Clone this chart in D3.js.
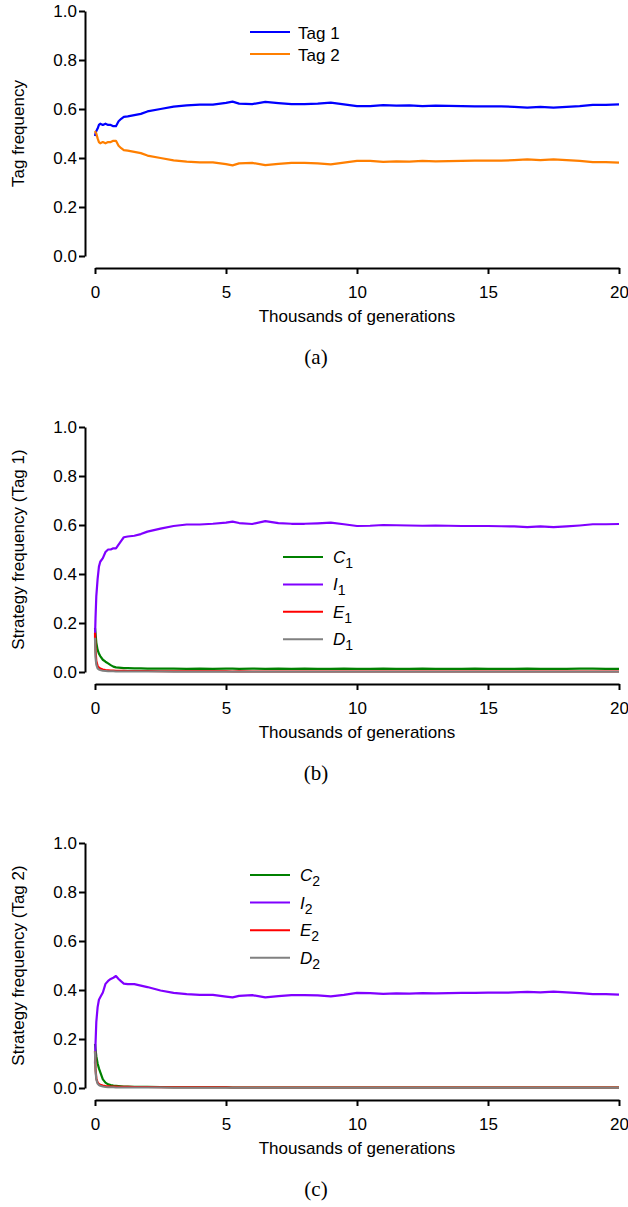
<!DOCTYPE html>
<html><head><meta charset="utf-8">
<script src="https://cdn.jsdelivr.net/npm/d3@7"></script>
<style>body{margin:0;background:#fff} svg{display:block}</style>
</head><body>
<svg id="chart" width="628" height="1207"></svg>
<script>
// x values: thousands of generations
const gens = [0, 0.02, 0.05, 0.1, 0.15, 0.2, 0.3, 0.4, 0.5, 0.6, 0.7, 0.8, 0.9,
  1.0, 1.1, 1.25, 1.5, 1.75, 2.0,
  2.5, 3.0, 3.5, 4.0, 4.5, 5.0, 5.25, 5.5,
  6.0, 6.5, 7.0, 7.5, 8.0, 8.5, 9.0, 9.5, 10.0,
  10.5, 11.0, 11.5, 12.0, 12.5, 13.0, 13.5, 14.0, 14.5, 15.0,
  15.5, 16.0, 16.5, 17.0, 17.5, 18.0, 18.5, 19.0, 19.5, 20.0];
const xTicks = [0, 5, 10, 15, 20];
const yTicks = [0, 0.2, 0.4, 0.6, 0.8, 1.0];

// panel (a)
const tag1 = [0.49, 0.50, 0.51, 0.52, 0.535, 0.54, 0.535, 0.54, 0.535, 0.535, 0.53, 0.53, 0.55,
  0.56, 0.568, 0.57, 0.575, 0.58, 0.59,
  0.60, 0.61, 0.615, 0.618, 0.618, 0.625, 0.630, 0.622,
  0.62, 0.629, 0.624, 0.62, 0.62, 0.622, 0.626, 0.619, 0.612,
  0.612, 0.616, 0.614, 0.615, 0.612, 0.614, 0.613, 0.612, 0.611, 0.611,
  0.611, 0.609, 0.606, 0.609, 0.606, 0.609, 0.612, 0.617, 0.617, 0.619];
const tag2 = [0.51, 0.505, 0.50, 0.48, 0.465, 0.46, 0.465, 0.46, 0.465, 0.465, 0.47, 0.47, 0.45,
  0.44, 0.432, 0.43, 0.425, 0.42, 0.41,
  0.40, 0.39, 0.385, 0.382, 0.382, 0.375, 0.370, 0.378,
  0.38, 0.371, 0.376, 0.38, 0.38, 0.378, 0.374, 0.381, 0.388,
  0.388, 0.384, 0.386, 0.385, 0.388, 0.386, 0.387, 0.388, 0.389, 0.389,
  0.389, 0.391, 0.394, 0.391, 0.394, 0.391, 0.388, 0.383, 0.383, 0.381];

// panel (b)
const c1 = [0.18, 0.16, 0.12, 0.09, 0.075, 0.065, 0.05, 0.042, 0.035, 0.028, 0.022, 0.019, 0.018,
  0.017, 0.016, 0.016, 0.015, 0.015, 0.014,
  0.014, 0.014, 0.013, 0.014, 0.013, 0.014, 0.014, 0.013,
  0.014, 0.013, 0.014, 0.013, 0.014, 0.013, 0.013, 0.014, 0.013,
  0.013, 0.014, 0.013, 0.013, 0.014, 0.013, 0.013, 0.013, 0.014, 0.013,
  0.013, 0.013, 0.014, 0.013, 0.013, 0.013, 0.014, 0.014, 0.013, 0.013];
const i1 = [0.14, 0.22, 0.31, 0.38, 0.43, 0.45, 0.465, 0.49, 0.50, 0.50, 0.505, 0.505, 0.52,
  0.535, 0.55, 0.553, 0.556, 0.563, 0.573,
  0.585, 0.596, 0.602, 0.602, 0.605, 0.61, 0.614, 0.608,
  0.604, 0.616, 0.608, 0.605, 0.605, 0.607, 0.61, 0.603, 0.596,
  0.597, 0.60, 0.599, 0.598, 0.597, 0.598, 0.597, 0.596, 0.596, 0.596,
  0.595, 0.594, 0.591, 0.594, 0.591, 0.594, 0.598, 0.603, 0.603, 0.604];
const e1 = [0.16, 0.09, 0.045, 0.025, 0.018, 0.014, 0.010, 0.008, 0.007, 0.006, 0.006, 0.005, 0.005,
  0.005, 0.005, 0.004, 0.004, 0.004, 0.004,
  0.003, 0.003, 0.003, 0.003, 0.003, 0.003, 0.002, 0.003,
  0.002, 0.002, 0.002, 0.002, 0.002, 0.002, 0.002, 0.002, 0.002,
  0.002, 0.002, 0.002, 0.002, 0.002, 0.002, 0.002, 0.002, 0.002, 0.002,
  0.002, 0.002, 0.002, 0.002, 0.002, 0.002, 0.002, 0.002, 0.002, 0.002];
const d1 = [0.14, 0.06, 0.03, 0.015, 0.010, 0.008, 0.005, 0.004, 0.003, 0.003, 0.003, 0.002, 0.002,
  0.002, 0.002, 0.002, 0.002, 0.002, 0.002,
  0.002, 0.001, 0.001, 0.001, 0.001, 0.001, 0.001, 0.001,
  0.001, 0.001, 0.001, 0.001, 0.001, 0.001, 0.001, 0.001, 0.001,
  0.001, 0.001, 0.001, 0.001, 0.001, 0.001, 0.001, 0.001, 0.001, 0.001,
  0.001, 0.001, 0.001, 0.001, 0.001, 0.001, 0.001, 0.001, 0.001, 0.001];

// panel (c)
const c2 = [0.18, 0.16, 0.13, 0.10, 0.08, 0.065, 0.035, 0.022, 0.015, 0.012, 0.010, 0.009, 0.008,
  0.007, 0.006, 0.006, 0.005, 0.005, 0.005,
  0.004, 0.003, 0.003, 0.003, 0.003, 0.003, 0.002, 0.002,
  0.002, 0.002, 0.002, 0.002, 0.002, 0.002, 0.002, 0.002, 0.002,
  0.002, 0.002, 0.002, 0.002, 0.002, 0.002, 0.002, 0.002, 0.002, 0.002,
  0.002, 0.002, 0.002, 0.002, 0.002, 0.002, 0.002, 0.002, 0.002, 0.002];
const i2 = [0.10, 0.18, 0.27, 0.33, 0.36, 0.37, 0.39, 0.425, 0.437, 0.445, 0.45, 0.457, 0.445,
  0.435, 0.426, 0.424, 0.424, 0.418, 0.412,
  0.398, 0.388, 0.383, 0.38, 0.38, 0.373, 0.37, 0.376,
  0.379, 0.37, 0.375, 0.379, 0.379, 0.378, 0.374, 0.38, 0.388,
  0.387, 0.384, 0.386, 0.385, 0.387, 0.386, 0.387, 0.388, 0.388, 0.389,
  0.389, 0.39, 0.392, 0.39, 0.393, 0.39, 0.387, 0.383, 0.383, 0.381];
const e2 = [0.15, 0.08, 0.04, 0.022, 0.016, 0.013, 0.010, 0.008, 0.007, 0.006, 0.006, 0.006, 0.005,
  0.005, 0.005, 0.005, 0.004, 0.004, 0.004,
  0.003, 0.003, 0.003, 0.003, 0.003, 0.003, 0.002, 0.002,
  0.002, 0.002, 0.002, 0.002, 0.002, 0.002, 0.002, 0.002, 0.002,
  0.002, 0.002, 0.002, 0.002, 0.002, 0.002, 0.002, 0.002, 0.002, 0.002,
  0.002, 0.002, 0.002, 0.002, 0.002, 0.002, 0.002, 0.002, 0.002, 0.002];
const d2 = [0.15, 0.07, 0.035, 0.018, 0.012, 0.009, 0.006, 0.004, 0.003, 0.003, 0.003, 0.002, 0.002,
  0.002, 0.002, 0.002, 0.002, 0.002, 0.002,
  0.002, 0.001, 0.001, 0.001, 0.001, 0.001, 0.001, 0.001,
  0.001, 0.001, 0.001, 0.001, 0.001, 0.001, 0.001, 0.001, 0.001,
  0.001, 0.001, 0.001, 0.001, 0.001, 0.001, 0.001, 0.001, 0.001, 0.001,
  0.001, 0.001, 0.001, 0.001, 0.001, 0.001, 0.001, 0.001, 0.001, 0.001];

const strategyLetters = ["C", "I", "E", "D"];
const captions = ["(a)", "(b)", "(c)"];
const yTitles = ["Tag frequency", "Strategy frequency (Tag 1)", "Strategy frequency (Tag 2)"];
const xTitle = "Thousands of generations";

const COL = {blue:"#0000ff", orange:"#ff7f00", green:"#008000", purple:"#8000ff", red:"#ff0000", gray:"#808080"};

const panels = [
  {top: 0, series: [{v: tag1, c: COL.blue, label: "Tag 1"}, {v: tag2, c: COL.orange, label: "Tag 2"}],
   leg: {x1: 250, x2: 290, y0: 32, dy: 22, tx: 298}},
  {top: 416, sub: "1", series: [{v: c1, c: COL.green}, {v: i1, c: COL.purple}, {v: e1, c: COL.red}, {v: d1, c: COL.gray}],
   leg: {x1: 283, x2: 323, y0: 557, dy: 27.4, tx: 333}},
  {top: 832, sub: "2", series: [{v: c2, c: COL.green}, {v: i2, c: COL.purple}, {v: e2, c: COL.red}, {v: d2, c: COL.gray}],
   leg: {x1: 250, x2: 290, y0: 875, dy: 27.6, tx: 300}}
];

const svg = d3.select("#chart");
const FONT = "'Liberation Sans', Arial, Helvetica, sans-serif";
const x = d3.scaleLinear().domain([0, 20]).range([95, 619]);

panels.forEach((p, pi) => {
  const y = d3.scaleLinear().domain([0, 1]).range([256 + p.top, 11 + p.top]);
  const g = svg.append("g");

  // y axis
  const ya = g.append("g").attr("transform", "translate(85,0)")
    .call(d3.axisLeft(y).tickValues(yTicks).tickFormat(d3.format(".1f")).tickSize(6).tickSizeOuter(0).tickPadding(2));
  // x axis
  const xa = g.append("g").attr("transform", `translate(0,${268 + p.top})`)
    .call(d3.axisBottom(x).tickValues(xTicks).tickFormat(d3.format("d")).tickSize(6).tickSizeOuter(0).tickPadding(12));
  [ya, xa].forEach(a => {
    a.attr("font-family", FONT).attr("font-size", 17);
    a.select(".domain").attr("stroke", "#000").attr("stroke-width", 2);
    a.selectAll(".tick line").attr("stroke", "#000").attr("stroke-width", 2);
    a.selectAll(".tick text").attr("fill", "#000");
  });

  // titles
  g.append("text").attr("x", 357).attr("y", 322 + p.top).attr("text-anchor", "middle")
    .attr("font-family", FONT).attr("font-size", 17).text(xTitle);
  g.append("text").attr("transform", `translate(24,${133.5 + p.top}) rotate(-90)`).attr("text-anchor", "middle")
    .attr("font-family", FONT).attr("font-size", 17).text(yTitles[pi]);
  g.append("text").attr("x", 316).attr("y", 364 + p.top).attr("text-anchor", "middle")
    .attr("font-family", "'Liberation Serif', 'DejaVu Serif', serif").attr("font-size", 21).text(captions[pi]);

  // lines
  const line = d3.line().x((d, i) => x(gens[i])).y(d => y(d));
  p.series.forEach(s => {
    g.append("path").datum(s.v).attr("d", line).attr("fill", "none")
      .attr("stroke", s.c).attr("stroke-width", 2.2).attr("stroke-linejoin", "round");
  });

  // legend
  p.series.forEach((s, i) => {
    const ly = p.leg.y0 + i * p.leg.dy;
    g.append("line").attr("x1", p.leg.x1).attr("x2", p.leg.x2).attr("y1", ly).attr("y2", ly)
      .attr("stroke", s.c).attr("stroke-width", 2);
    const t = g.append("text").attr("x", p.leg.tx).attr("font-family", FONT).attr("font-size", 17);
    if (p.sub) {
      t.attr("y", ly + 6);
      t.append("tspan").attr("font-style", "italic").text(strategyLetters[i]);
      t.append("tspan").attr("font-size", 14).attr("dy", 5).text(p.sub);
    } else {
      t.attr("y", ly + 7).text(s.label);
    }
  });
});
</script>
</body></html>
